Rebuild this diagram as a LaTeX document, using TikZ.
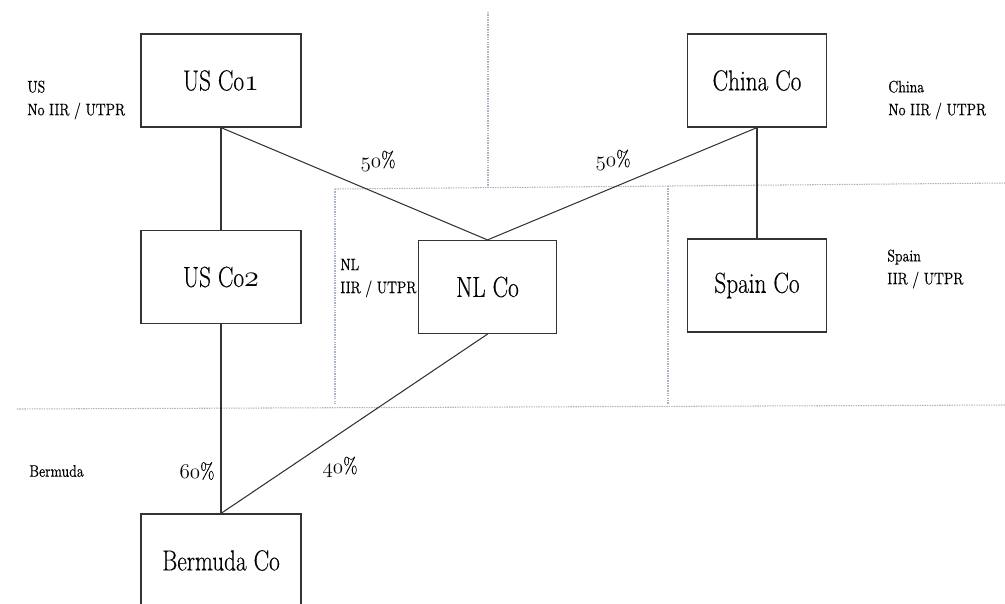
\documentclass[tikz,border=0pt]{standalone}
\usepackage{fontspec}
\setmainfont{Latin Modern Roman}[FakeStretch=0.8, FakeBold=0.3]
\newcommand\osn[1]{{\usefont{OML}{cmm}{m}{it}#1}}
\definecolor{zoneline}{RGB}{168,178,192}

\tikzset{
  company/.style={draw=black!80, line width=0.7pt, minimum height=1.86cm,
    inner sep=0pt, font=\fontsize{16.5}{19}\selectfont},
  wide/.style={minimum width=3.2cm},
  narrow/.style={minimum width=2.77cm},
  country/.style={anchor=west, align=left, inner sep=0pt,
    font=\fontsize{9.5}{13}\selectfont},
  share/.style={inner sep=0pt, font=\fontsize{12.5}{14}\selectfont},
  link/.style={draw=black!80, line width=0.6pt},
  zone/.style={draw=zoneline, dash pattern=on 0.8pt off 0.6pt, line width=0.6pt}
}

\begin{document}
\begin{tikzpicture}[x=0.02cm, y=-0.02cm]
    \useasboundingbox (0,0) rectangle (1005,603);
    \clip (0,0) rectangle (1005,603);

    % tax zones
    \draw[zone] (488,12) -- (488,187);
    \draw[zone] (335,189) -- (1005,183);
    \draw[zone] (335,189) -- (335,404);
    \draw[zone] (668,186) -- (668,404);
    \draw[zone] (17,409) -- (1005,405);

    % companies
    \node[company, wide] (usco1) at (221,80.5) {US Co\osn{1}};
    \node[company, wide] (usco2) at (221,277) {US Co\osn{2}};
    \node[company, narrow] (chinaco) at (757,80.5) {China Co};
    \node[company, narrow] (nlco) at (487.5,287) {NL Co};
    \node[company, narrow] (spainco) at (757,285.5) {Spain Co};
    \node[company, wide] (bermudaco) at (221,560.5) {Bermuda Co};

    % jurisdictions
    \node[country] (uslbl) at (27,100) {US\\No IIR / UTPR};
    \node[country] (chinalbl) at (888,100) {China\\No IIR / UTPR};
    \node[country] (nllbl) at (340,278) {NL\\IIR / UTPR};
    \node[country] (spainlbl) at (887,269) {Spain\\IIR / UTPR};
    \node[country] (bermudalbl) at (29,471) {Bermuda};

    % ownership
    \draw[link] (usco1.south) -- (usco2.north);
    \draw[link] (usco1.south) -- (nlco.north);
    \draw[link] (chinaco.south) -- (nlco.north);
    \draw[link] (chinaco.south) -- (spainco.north);
    \draw[link] (usco2.south) -- (bermudaco.north);
    \draw[link] (nlco.south) -- (bermudaco.north);

    \node[share] (pctus) at (378,161) {\osn{50}\%};
    \node[share] (pctchina) at (613,160) {\osn{50}\%};
    \node[share] (pctusb) at (197,471) {\osn{60}\%};
    \node[share] (pctnlb) at (340,467) {\osn{40}\%};
\end{tikzpicture}
\end{document}
